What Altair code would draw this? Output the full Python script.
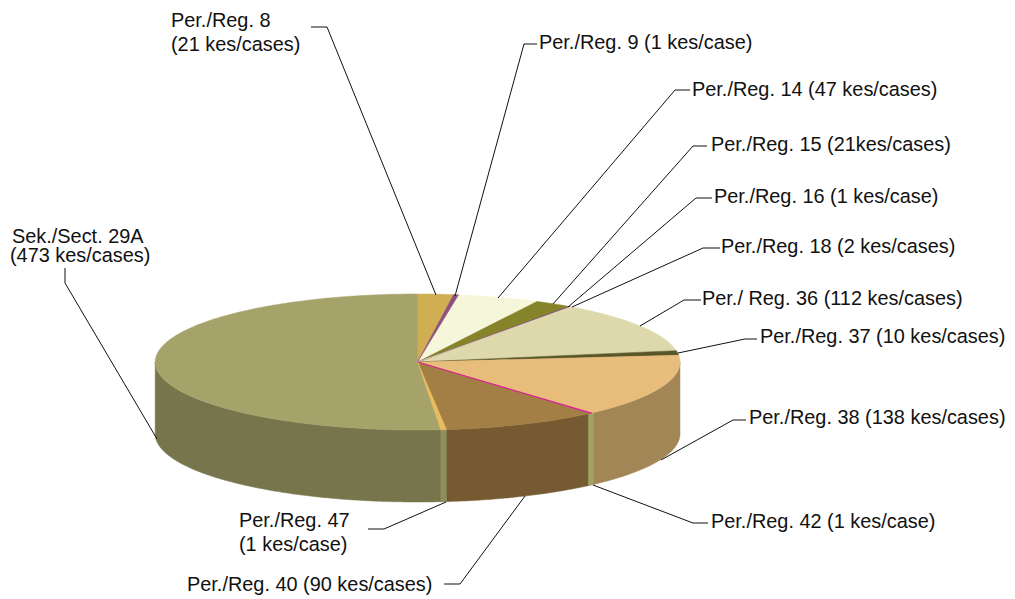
import math
import altair as alt

# ---- chart values ----
names = ["Per./Reg. 8", "Per./Reg. 9", "Per./Reg. 14", "Per./Reg. 15", "Per./Reg. 16",
         "Per./Reg. 18", "Per./ Reg. 36", "Per./Reg. 37", "Per./Reg. 38", "Per./Reg. 42",
         "Per./Reg. 40", "Per./Reg. 47", "Sek./Sect. 29A"]
cases = [21, 1, 47, 21, 1, 2, 112, 10, 138, 1, 90, 1, 473]

# ---- styles ----
top_colors = ["#CFAF52", "#8F5080", "#F6F6DA", "#85842B", "#7A2A8C", "#DDD9AC", "#DDD9AC",
              "#5A5628", "#E8BC7A", "#E000A0", "#A47F45", "#E8BC60", "#A5A36A"]
wall_colors = {"Per./Reg. 38": "#A38656", "Per./Reg. 40": "#755A32", "Sek./Sect. 29A": "#77754B",
               "Per./Reg. 42": "#A0A264", "Per./Reg. 47": "#8F8F5F"}
min_top_sweep = {"Per./Reg. 9": 1.1, "Per./Reg. 47": 1.25}
min_wall_sweep = {"Per./Reg. 42": 1.5, "Per./Reg. 47": 1.25}

# ---- layout (page pixels) ----
PAGE = 8
CX, CY, RX, RY, DEPTH = 417.6, 362, 262.4, 68, 72

label_rows = [
    ("Per./Reg. 8", 171, 27), ("(21 kes/cases)", 171, 51),
    ("Per./Reg. 9 (1 kes/case)", 539, 49),
    ("Per./Reg. 14 (47 kes/cases)", 692, 96),
    ("Per./Reg. 15 (21kes/cases)", 711, 151),
    ("Per./Reg. 16 (1 kes/case)", 714, 203),
    ("Per./Reg. 18 (2 kes/cases)", 721, 253),
    ("Per./ Reg. 36 (112 kes/cases)", 702, 305),
    ("Per./Reg. 37 (10 kes/cases)", 760, 343),
    ("Per./Reg. 38 (138 kes/cases)", 749, 424),
    ("Per./Reg. 42 (1 kes/case)", 711, 528),
    ("Per./Reg. 40 (90 kes/cases)", 187, 591),
    ("Per./Reg. 47", 239, 527), ("(1 kes/case)", 239, 551),
    ("Sek./Sect. 29A", 12, 243), ("(473 kes/cases)", 10, 262),
]
leaders = [
    [(311, 27), (327, 27), (436, 295)],
    [(537, 44), (524, 44), (455, 296)],
    [(690, 90), (675, 90), (498, 298)],
    [(707, 146), (693, 146), (553, 304)],
    [(712, 198), (696, 198), (568, 307)],
    [(720, 248), (703, 248), (572, 307)],
    [(701, 300), (684, 300), (640, 326)],
    [(757, 339), (745, 339), (678, 353)],
    [(746, 420), (733, 420), (661, 460)],
    [(708, 523), (693, 523), (593, 485)],
    [(444, 584), (460, 584), (525, 496)],
    [(368, 529), (384, 529), (446, 502)],
    [(65, 268), (65, 283), (157, 439)],
]


def rim(deg, dy=0):
    a = math.radians(deg)
    return [CX + RX * math.sin(a) - PAGE, CY - RY * math.cos(a) + dy - PAGE]


def arc(a0, a1, dy=0):
    n = max(2, int(abs(a1 - a0) / 0.5) + 1)
    return [rim(a0 + (a1 - a0) * k / (n - 1), dy) for k in range(n)]


def feature(ring, fill):
    return {"type": "Feature", "properties": {"fill": fill},
            "geometry": {"type": "Polygon", "coordinates": [ring + [ring[0]]]}}


total = sum(cases)
spans = {}
cum = 0
for name, v in zip(names, cases):
    spans[name] = (cum * 360 / total, (cum + v) * 360 / total)
    cum += v


def widened(name, minimum):
    a0, a1 = spans[name]
    if name in minimum and a1 - a0 < minimum[name]:
        mid = (a0 + a1) / 2
        return mid - minimum[name] / 2, mid + minimum[name] / 2
    return a0, a1


features = []
# walls: broad ones first, thin ones over them
for name in sorted(wall_colors, key=lambda n: n in min_wall_sweep):
    a0, a1 = widened(name, min_wall_sweep)
    a0, a1 = max(a0, 90), min(a1, 270)
    features.append(feature(arc(a0, a1) + arc(a1, a0, DEPTH), wall_colors[name]))
# top surface: broad slices first, thin ones over them
centre = [CX - PAGE, CY - PAGE]
order = sorted(range(len(names)), key=lambda i: cases[i] <= 2)
for i in order:
    a0, a1 = widened(names[i], min_top_sweep)
    features.append(feature([centre] + arc(a0, a1), top_colors[i]))

line_features = [
    {"type": "Feature", "properties": {"k": j},
     "geometry": {"type": "LineString", "coordinates": [[x - PAGE, y - PAGE] for x, y in pts]}}
    for j, pts in enumerate(leaders)
]
text_rows = [{"t": t, "lon": x - PAGE, "lat": y - PAGE} for t, x, y in label_rows]

proj = dict(type="identity", scale=1, translate=[0, 0])

pie = alt.Chart(alt.Data(values=features)).mark_geoshape(strokeWidth=0.5).encode(
    fill=alt.Fill("properties.fill:N", scale=None),
    stroke=alt.Stroke("properties.fill:N", scale=None),
).project(**proj)

lines = alt.Chart(alt.Data(values=line_features)).mark_geoshape(
    filled=False, stroke="#111111", strokeWidth=1
).project(**proj)

texts = alt.Chart(alt.Data(values=text_rows)).mark_text(
    align="left", baseline="alphabetic", font="Liberation Sans", fontSize=19.9, color="#111111"
).encode(
    longitude="lon:Q", latitude="lat:Q", text="t:N"
).project(**proj)

chart = alt.layer(pie, lines, texts).properties(
    width=999, height=588, padding=0, autosize=alt.AutoSizeParams(type="none"),
    background="white"
).configure_view(stroke=None)

chart.save("out.html", embed_options={"renderer": "svg", "actions": False})
